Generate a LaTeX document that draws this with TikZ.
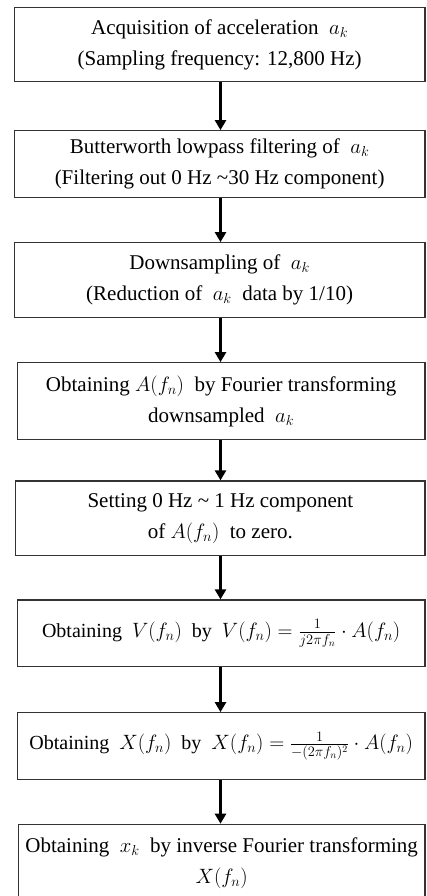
\documentclass[tikz,border=0pt]{standalone}
\usepackage{fontspec}
\setmainfont{Liberation Serif}
\usetikzlibrary{arrows.meta}
\tikzset{
  box/.style={draw=black!80, line width=1.2pt, align=center, inner sep=0pt,
    font=\fontsize{21}{31}\selectfont},
  smallbox/.style={box, font=\fontsize{20}{30}\selectfont},
  arr/.style={line width=3.3pt, -{Triangle[length=10pt,width=11pt]}},
}
\begin{document}
\begin{tikzpicture}[x=1pt,y=-1pt]
\useasboundingbox (0,0) rectangle (426,896);
\clip (0,0) rectangle (426,896);
\fill[white] (0,0) rectangle (426,896);
\coordinate (ax) at (220.5,0);
\node[box, minimum width=410.7pt, minimum height=74.4pt] (b1) at (219.65,44.5)
  {Acquisition of acceleration ~$a_k$\\(Sampling frequency: 12,800 Hz)};
\node[box, minimum width=410.7pt, minimum height=66.6pt] (b2) at (219.65,164)
  {Butterworth lowpass filtering of ~$a_k$\\(Filtering out 0 Hz \textasciitilde30 Hz component)};
\node[box, minimum width=410.7pt, minimum height=74.6pt] (b3) at (219.65,280)
  {Downsampling of ~$a_k$\\(Reduction of ~$a_k$ ~data by 1/10)};
\node[box, minimum width=407.7pt, minimum height=76.6pt] (b4) at (221.15,401)
  {Obtaining $A(f_n)$ ~by Fourier transforming\\downsampled ~$a_k$};
\node[box, minimum width=409.3pt, minimum height=74.7pt] (b5) at (220.35,518.35)
  {Setting 0 Hz \textasciitilde\ 1 Hz component\\of $A(f_n)$ ~to zero.};
\node[smallbox, minimum width=407.7pt, minimum height=66.7pt] (b6) at (221.15,633.35)
  {Obtaining ~$V(f_n)$ ~by ~$V(f_n)=\frac{1}{j2\pi f_n}\cdot A(f_n)$};
\node[smallbox, minimum width=407.7pt, minimum height=66.6pt] (b7) at (221.15,746)
  {Obtaining ~$X(f_n)$ ~by ~$X(f_n)=\frac{1}{-(2\pi f_n)^2}\cdot A(f_n)$};
\node[box, minimum width=406.7pt, minimum height=77.7pt] (b8) at (221.65,863.15)
  {Obtaining ~$x_k$ ~by inverse Fourier transforming\\$X(f_n)$};
\foreach \a/\b in {b1/b2,b2/b3,b3/b4,b4/b5,b5/b6,b6/b7,b7/b8}
  \draw[arr] (\a.south -| ax) -- (\b.north -| ax);
\end{tikzpicture}
\end{document}
